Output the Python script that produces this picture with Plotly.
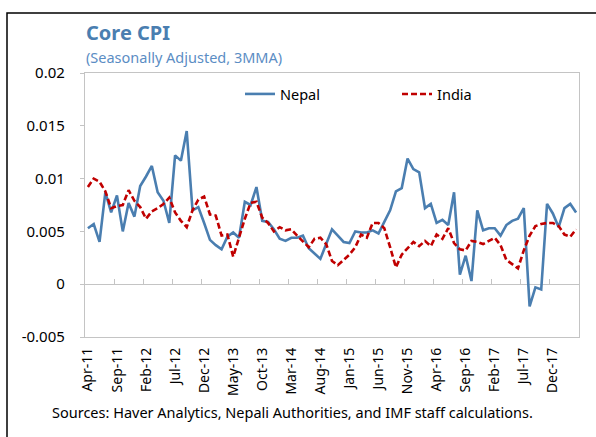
import pandas as pd
import plotly.graph_objects as go

# Categories: monthly, Apr-11 .. Apr-18
months = list(pd.date_range("2011-04-01", periods=85, freq="MS").strftime("%b-%y"))
tick_labels = months[::5]

nepal = [
    0.0053, 0.0057, 0.0040, 0.0087, 0.0068, 0.0084, 0.0050, 0.0077, 0.0064, 0.0093,
    0.0102, 0.0112, 0.0087, 0.0079, 0.0058, 0.0122, 0.0117, 0.0145, 0.0070, 0.0073,
    0.0058, 0.0042, 0.0037, 0.0033, 0.0045, 0.0049, 0.0044, 0.0078, 0.0075, 0.0092,
    0.0060, 0.0059, 0.0052, 0.0043, 0.0041, 0.0044, 0.0044, 0.0046, 0.0034, 0.0029,
    0.0024, 0.0038, 0.0052, 0.0046, 0.0040, 0.0039, 0.0050, 0.0049, 0.0049, 0.0051,
    0.0048, 0.0059, 0.0070, 0.0088, 0.0091, 0.0119, 0.0109, 0.0106, 0.0072, 0.0076,
    0.0058, 0.0061, 0.0056, 0.0087, 0.0009, 0.0027, 0.0003, 0.0070, 0.0051, 0.0053,
    0.0053, 0.0046, 0.0056, 0.0060, 0.0062, 0.0072, -0.0021, -0.0003, -0.0005, 0.0076,
    0.0067, 0.0054, 0.0072, 0.0076, 0.0068,
]
india = [
    0.0092, 0.0100, 0.0097, 0.0088, 0.0072, 0.0074, 0.0075, 0.0089, 0.0079, 0.0073,
    0.0062, 0.0069, 0.0072, 0.0076, 0.0082, 0.0068, 0.0060, 0.0054, 0.0070, 0.0080,
    0.0083, 0.0066, 0.0065, 0.0046, 0.0047, 0.0026, 0.0044, 0.0062, 0.0077, 0.0078,
    0.0063, 0.0058, 0.0050, 0.0054, 0.0051, 0.0052, 0.0046, 0.0040, 0.0035, 0.0043,
    0.0044, 0.0038, 0.0022, 0.0018, 0.0023, 0.0028, 0.0035, 0.0047, 0.0044, 0.0058,
    0.0058, 0.0053, 0.0035, 0.0016, 0.0028, 0.0034, 0.0040, 0.0036, 0.0041, 0.0036,
    0.0047, 0.0043, 0.0053, 0.0039, 0.0033, 0.0032, 0.0041, 0.0040, 0.0038, 0.0041,
    0.0044, 0.0037, 0.0023, 0.0019, 0.0015, 0.0032, 0.0046, 0.0055, 0.0057, 0.0058,
    0.0058, 0.0055, 0.0047, 0.0045, 0.0052,
]
y_ticks = [-0.005, 0, 0.005, 0.01, 0.015, 0.02]
y_ticktext = ["-0.005", "0", "0.005", "0.01", "0.015", "0.02"]

FONT = "Noto Sans"
BLUE = "#4a7eb0"
RED = "#c00000"
AXIS = "#c4c4c4"

W, H = 596, 437
L, R, T, B = 85, 17, 73, 100
pw, ph = W - L - R, H - T - B

def px_x(x):
    return (x - L) / pw

def px_y(y):
    return (H - B - y) / ph

fig = go.Figure()
fig.add_trace(go.Scatter(x=months, y=nepal, name="Nepal", mode="lines",
                         line=dict(color=BLUE, width=2.6)))
fig.add_trace(go.Scatter(x=months, y=india, name="India", mode="lines",
                         line=dict(color=RED, width=2.6, dash="6px,3px")))
# invisible helper trace for the tick axis on the zero line
idx = list(range(len(months)))
fig.add_trace(go.Scatter(x=idx, y=india, xaxis="x2", mode="lines",
                         line=dict(width=0), opacity=0, showlegend=False,
                         hoverinfo="skip"))

fig.update_layout(
    width=W, height=H,
    margin=dict(l=L, r=R, t=T, b=B, autoexpand=False),
    paper_bgcolor="white", plot_bgcolor="white",
    font=dict(family=FONT, size=14, color="black"),
    showlegend=True,
    legend=dict(orientation="h", x=px_x(240), y=px_y(78), xanchor="left", yanchor="top",
                bgcolor="rgba(0,0,0,0)", font=dict(size=14.5, family=FONT),
                entrywidth=112, itemwidth=30, tracegroupgap=0),
    xaxis=dict(type="category", range=[-0.5, len(months) - 0.5], automargin=False,
               tickmode="array", tickvals=tick_labels, ticktext=tick_labels,
               tickangle=-90, tickfont=dict(size=14, family=FONT),
               showgrid=False, zeroline=False, showline=True, mirror=True,
               linecolor=AXIS, linewidth=1.3, ticks="", ticklabelstandoff=4),
    xaxis2=dict(overlaying="x", anchor="free", position=0.2, side="bottom",
                range=[-0.5, len(months) - 0.5], automargin=False,
                tickmode="array", tickvals=[i - 0.5 for i in range(0, len(months) + 1, 5)],
                ticks="inside", ticklen=5, tickwidth=1.2, tickcolor=AXIS,
                showticklabels=False, showgrid=False, zeroline=False, showline=False),
    yaxis=dict(range=[-0.005, 0.02], tickmode="array", tickvals=y_ticks, automargin=False,
               ticktext=y_ticktext, tickfont=dict(size=15, family=FONT),
               showgrid=False, zeroline=True, zerolinecolor=AXIS, zerolinewidth=1.3,
               showline=True, mirror=True, linecolor=AXIS, linewidth=1.3,
               ticks="outside", ticklen=4, tickcolor=AXIS, ticklabelstandoff=12),
)

fig.add_annotation(text="<b>Core CPI</b>", xref="paper", yref="paper",
                   x=px_x(84), y=px_y(17), xanchor="left", yanchor="top",
                   showarrow=False, font=dict(size=20, color=BLUE, family=FONT))
fig.add_annotation(text="(Seasonally Adjusted, 3MMA)", xref="paper", yref="paper",
                   x=px_x(84), y=px_y(45), xanchor="left", yanchor="top",
                   showarrow=False, font=dict(size=14.5, color="#5b8dc4", family=FONT))
fig.add_annotation(text="Sources: Haver Analytics, Nepali Authorities, and IMF staff calculations.",
                   xref="paper", yref="paper", x=px_x(50), y=px_y(400),
                   xanchor="left", yanchor="top", showarrow=False,
                   font=dict(size=14.5, color="black", family=FONT))

# outer frame (left and top edges visible; right/bottom run off the canvas)
fig.add_shape(type="rect", xref="paper", yref="paper",
              x0=px_x(7), x1=px_x(610), y0=px_y(450), y1=px_y(13),
              line=dict(color="black", width=1.5), fillcolor="rgba(0,0,0,0)", layer="below")

fig.write_html("out.html", config={"displayModeBar": False},
               post_script="document.body.style.margin='0';document.body.style.padding='0';")
